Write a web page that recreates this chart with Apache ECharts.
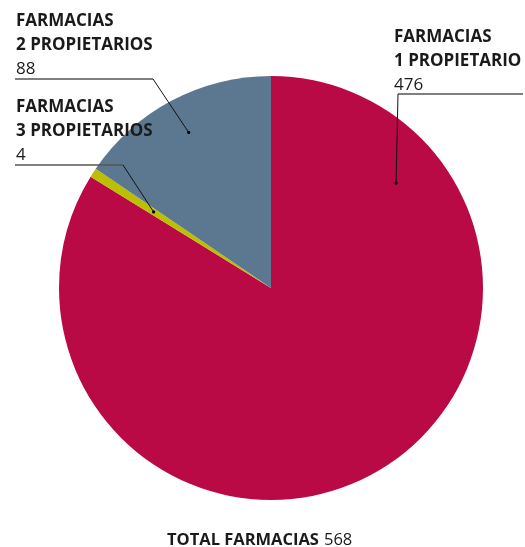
<!DOCTYPE html>
<html>
<head>
<meta charset="utf-8">
<script src="https://cdn.jsdelivr.net/npm/echarts@6/dist/echarts.min.js"></script>
<style>
  html, body { margin: 0; padding: 0; background: #fff; }
  #chart { width: 525px; height: 547px; }
</style>
</head>
<body>
<div id="chart"></div>
<script>
// datos
var categories = ['1 PROPIETARIO', '3 PROPIETARIOS', '2 PROPIETARIOS'];
var values = [476, 4, 88];
var colors = ['#B90A46', '#BCBF00', '#5C7891'];
var totalLabel = 'TOTAL FARMACIAS';

var total = values.reduce(function (a, b) { return a + b; }, 0);

// geometria del pie
var cx = 271, cy = 288, R = 212;

// donde va cada etiqueta (x, top), el codo de la linea y el final
var labelPos = [
  { x: 394, y: 25, bendX: 398, bendY: 94, endX: 523, anchorAngle: 50, anchorR: 0.77 },
  { x: 16, y: 95, bendX: 123, bendY: 165, endX: 15, anchorAngle: null, anchorR: 0.66 },
  { x: 16, y: 9, bendX: 153, bendY: 79, endX: 15, anchorAngle: null, anchorR: 0.83 }
];

// angulo medio de cada porcion (grados, en sentido horario desde arriba)
function midAngle(idx) {
  var acc = 0;
  for (var i = 0; i < idx; i++) acc += values[i];
  return (acc + values[idx] / 2) / total * 360;
}

function anchor(idx) {
  var p = labelPos[idx];
  var a = (p.anchorAngle != null ? p.anchorAngle : midAngle(idx)) * Math.PI / 180;
  return [cx + Math.sin(a) * R * p.anchorR, cy - Math.cos(a) * R * p.anchorR];
}

var myChart = echarts.init(document.getElementById('chart'));

var option = {
  animation: false,
  title: {
    text: '{b|' + totalLabel + '} {v|' + total + '}',
    left: 162,
    top: 526,
    textStyle: {
      rich: {
        b: { fontFamily: 'Open Sans', fontWeight: 'bold', fontSize: 16.5, color: '#1a1a1a' },
        v: { fontFamily: 'Open Sans', fontWeight: 'normal', fontSize: 16.5, color: '#1a1a1a' }
      }
    }
  },
  series: [
    {
      type: 'pie',
      center: [cx, cy],
      radius: [0, R],
      startAngle: 90,
      clockwise: true,
      avoidLabelOverlap: false,
      silent: true,
      emphasis: { scale: false },
      itemStyle: { borderWidth: 0 },
      data: values.map(function (v, i) {
        return { name: categories[i], value: v, itemStyle: { color: colors[i] } };
      }),
      label: {
        show: true,
        position: 'outside',
        formatter: function (p) {
          return '{b|FARMACIAS}\n{b|' + p.name + '}\n{v|' + p.value + '}';
        },
        rich: {
          b: { fontFamily: 'Open Sans', fontWeight: 'bold', fontSize: 17, lineHeight: 24, color: '#1a1a1a' },
          v: { fontFamily: 'Open Sans', fontWeight: 'normal', fontSize: 17, lineHeight: 24, color: '#1a1a1a' }
        }
      },
      labelLine: { show: false },
      labelLayout: function (params) {
        var p = labelPos[params.dataIndex];
        return { x: p.x, y: p.y, align: 'left', verticalAlign: 'top' };
      }
    }
  ]
};

myChart.setOption(option);

// lineas guia y puntos, encima del pie
var guides = [];
values.forEach(function (v, i) {
  var a = anchor(i);
  var p = labelPos[i];
  guides.push({
    type: 'polyline',
    shape: { points: [[p.endX, p.bendY], [p.bendX, p.bendY]] },
    style: { stroke: '#555', lineWidth: 1.5, fill: null },
    z: 100
  });
  guides.push({
    type: 'polyline',
    shape: { points: [[p.bendX, p.bendY], a] },
    style: { stroke: '#111', lineWidth: 1, fill: null },
    z: 100
  });
  guides.push({
    type: 'circle',
    shape: { cx: a[0], cy: a[1], r: 1.6 },
    style: { fill: '#000' },
    z: 101
  });
});
myChart.setOption({ graphic: guides });
</script>
</body>
</html>
